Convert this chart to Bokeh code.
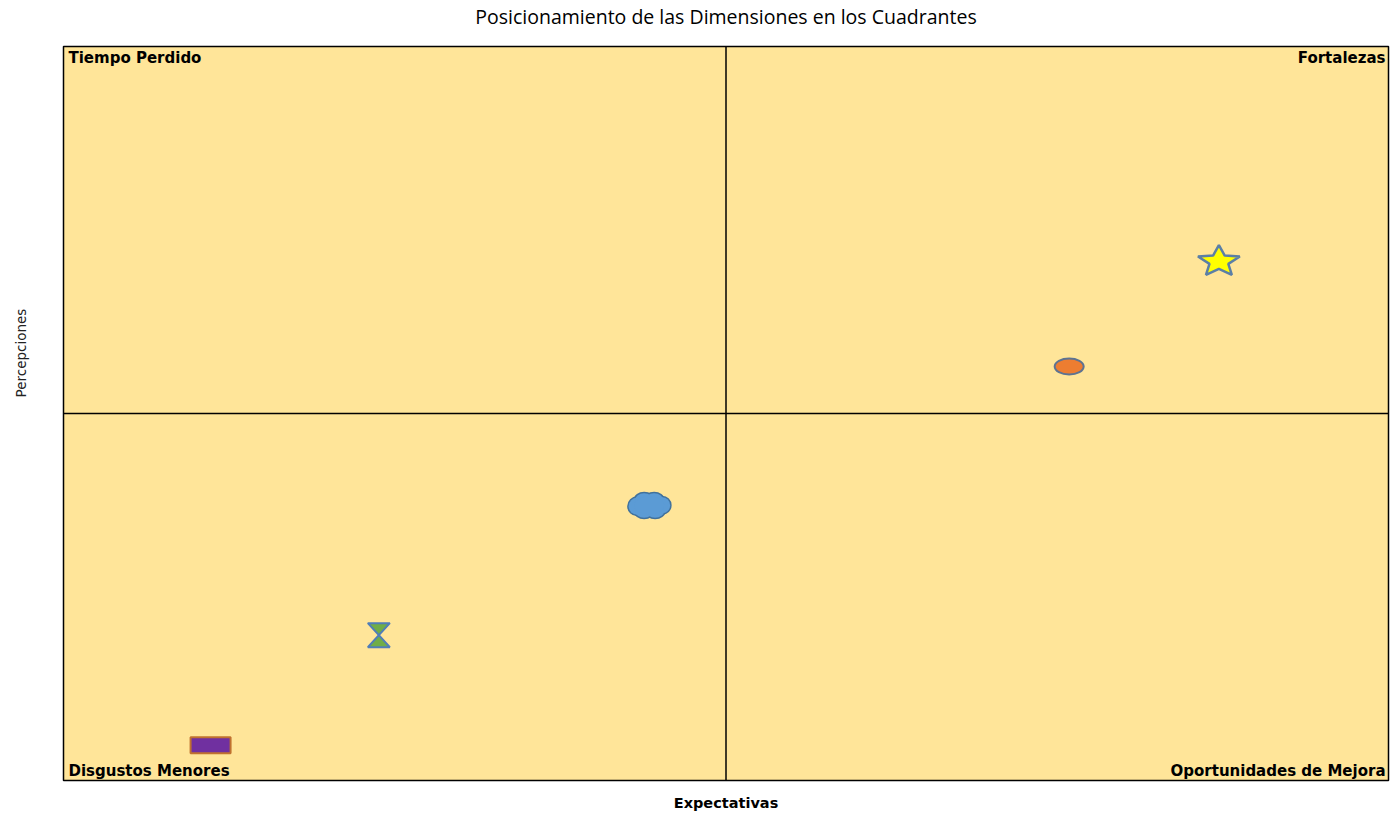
import math
from bokeh.plotting import figure
from bokeh.models import Span, Label, ColumnDataSource, Range1d, Title
from bokeh.embed import file_html
from bokeh.resources import INLINE

# ---- data ----
chart_title = "Posicionamiento de las Dimensiones en los Cuadrantes"
x_title, y_title = "Expectativas", "Percepciones"
quadrant_names = ["Tiempo Perdido", "Fortalezas", "Disgustos Menores", "Oportunidades de Mejora"]
x_min, x_max, x_mid = 0.0, 10.0, 5.0
y_min, y_max, y_mid = 0.0, 10.0, 5.0
expect = [8.72, 7.59, 4.42, 2.38, 1.11]       # Expectativas
percep = [7.07, 5.64, 3.75, 1.98, 0.48]       # Percepciones
shapes = ["star", "ellipse", "cloud", "hourglass", "rect"]

FW, FH = 1325, 734
px = (x_max - x_min) / FW
py = (y_max - y_min) / FH

p = figure(width=1393, height=812, frame_width=FW, frame_height=FH, title=None,
           x_range=Range1d(x_min, x_max), y_range=Range1d(y_min, y_max),
           output_backend="svg", toolbar_location=None,
           min_border_left=63, min_border_right=5, min_border_top=46, min_border_bottom=32,
           background_fill_color="#FFE599", border_fill_color="white")
p.axis.visible = False
p.grid.visible = False
p.outline_line_color = "black"
p.outline_line_width = 1.5


def spacer(size):
    return Title(text=" ", text_font_size="1px", standoff=size, text_color="white")


# top: spacer then title (later added = outer)
p.add_layout(spacer(13.5), "above")
p.add_layout(Title(text=chart_title, align="center", standoff=0, text_font="Open Sans",
                   text_font_size="19.5px", text_font_style="normal", text_color="black"), "above")
# bottom
p.add_layout(spacer(9), "below")
p.add_layout(Title(text=x_title, align="center", standoff=0, text_font="DejaVu Sans",
                   text_font_style="bold", text_font_size="14.5px", text_color="black"), "below")
# left
p.add_layout(spacer(31.5), "left")
p.add_layout(Title(text=y_title, align="left", offset=383, standoff=0, text_font="DejaVu Sans",
                   text_font_style="normal", text_font_size="13.5px", text_color="#222222"), "left")

p.add_layout(Span(location=x_mid, dimension="height", line_color="black", line_width=1.5))
p.add_layout(Span(location=y_mid, dimension="width", line_color="black", line_width=1.5))

qfont = dict(text_font="DejaVu Sans", text_font_style="bold", text_font_size="15px", text_color="black")
p.add_layout(Label(x=x_min, y=y_max, x_offset=5, y_offset=-2, text=quadrant_names[0],
                   text_align="left", text_baseline="top", **qfont))
p.add_layout(Label(x=x_max, y=y_max, x_offset=-3, y_offset=-2, text=quadrant_names[1],
                   text_align="right", text_baseline="top", **qfont))
p.add_layout(Label(x=x_min, y=y_min, x_offset=5, y_offset=1, text=quadrant_names[2],
                   text_align="left", text_baseline="bottom", **qfont))
p.add_layout(Label(x=x_max, y=y_min, x_offset=-3, y_offset=1, text=quadrant_names[3],
                   text_align="right", text_baseline="bottom", **qfont))

# ---- markers ----
for sx, sy, shp in zip(expect, percep, shapes):
    if shp == "star":
        Rx, Ry, ratio = 22.0, 16.5, 0.45
        xs, ys = [], []
        for k in range(10):
            a = math.pi / 2 + k * math.pi / 5
            r = 1.0 if k % 2 == 0 else ratio
            xs.append(sx + Rx * r * math.cos(a) * px)
            ys.append(sy + Ry * r * math.sin(a) * py)
        p.patch(xs, ys, fill_color="#FFFF00", line_color="#5B7FA6", line_width=2.5)
    elif shp == "ellipse":
        p.ellipse(x=[sx], y=[sy], width=29, height=16, width_units="screen", height_units="screen",
                  fill_color="#ED7D31", line_color="#5E7391", line_width=2)
    elif shp == "cloud":
        bumps = [(-12, 1, 17, 17), (-5, -5, 18, 14), (5, -5, 18, 14), (13, 0, 16, 16),
                 (6, 6, 18, 13), (-5, 6, 18, 13), (0, 0, 30, 18)]
        bx = [sx + b[0] * px for b in bumps]
        by = [sy - b[1] * py for b in bumps]
        bw = [b[2] for b in bumps]
        bh = [b[3] for b in bumps]
        src = ColumnDataSource(dict(x=bx, y=by, w=bw, h=bh))
        p.ellipse(x="x", y="y", width="w", height="h", width_units="screen", height_units="screen",
                  source=src, fill_color="#41719C", line_color="#41719C", line_width=3)
        p.ellipse(x="x", y="y", width="w", height="h", width_units="screen", height_units="screen",
                  source=src, fill_color="#5B9BD5", line_color=None)
    elif shp == "hourglass":
        hw, hh = 11, 12
        top_x = [sx - hw * px, sx + hw * px, sx]
        top_y = [sy + hh * py, sy + hh * py, sy]
        bot_x = [sx - hw * px, sx + hw * px, sx]
        bot_y = [sy - hh * py, sy - hh * py, sy]
        p.patches([top_x, bot_x], [top_y, bot_y], fill_color="#70AD47",
                  line_color="#4F7DB8", line_width=2)
    elif shp == "rect":
        p.rect(x=[sx], y=[sy], width=40, height=16, width_units="screen", height_units="screen",
               fill_color="#7030A0", line_color="#C0712F", line_width=2)

open("out.html", "w").write(file_html(p, INLINE))
